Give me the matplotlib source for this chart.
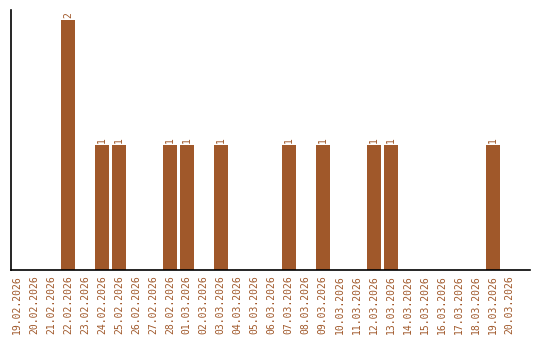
import matplotlib
matplotlib.use("Agg")
import matplotlib.pyplot as plt

dates = ["19.02.2026", "20.02.2026", "21.02.2026", "22.02.2026", "23.02.2026",
         "24.02.2026", "25.02.2026", "26.02.2026", "27.02.2026", "28.02.2026",
         "01.03.2026", "02.03.2026", "03.03.2026", "04.03.2026", "05.03.2026",
         "06.03.2026", "07.03.2026", "08.03.2026", "09.03.2026", "10.03.2026",
         "11.03.2026", "12.03.2026", "13.03.2026", "14.03.2026", "15.03.2026",
         "16.03.2026", "17.03.2026", "18.03.2026", "19.03.2026", "20.03.2026"]
counts = [0, 0, 0, 2, 0, 1, 1, 0, 0, 1,
          1, 0, 1, 0, 0, 0, 1, 0, 1, 0,
          0, 1, 1, 0, 0, 0, 0, 0, 1, 0]

color = "#A0582A"
font = "DejaVu Sans Mono"

fig = plt.figure(figsize=(5.4, 3.4), dpi=100)
ax = fig.add_axes([11 / 540, 70 / 340, 519 / 540, 260 / 340])

x = list(range(len(dates)))
ax.bar(x, counts, width=0.82, color=color)

for i, v in enumerate(counts):
    if v > 0:
        ax.text(i, v + 0.015, str(v), rotation=90, ha="center", va="bottom",
                color=color, fontsize=7, family=font)

ax.set_xlim(-0.35, 30.2)
ax.set_ylim(0, 2.08)
ax.set_xticks(x)
ax.set_xticklabels(dates, rotation=90, color=color, fontsize=7, family=font)
ax.set_yticks([])
ax.tick_params(axis="x", length=0, pad=4)

ax.spines["top"].set_visible(False)
ax.spines["right"].set_visible(False)
ax.spines["left"].set_linewidth(1.2)
ax.spines["bottom"].set_linewidth(1.2)

plt.savefig("out.png", dpi=100)
